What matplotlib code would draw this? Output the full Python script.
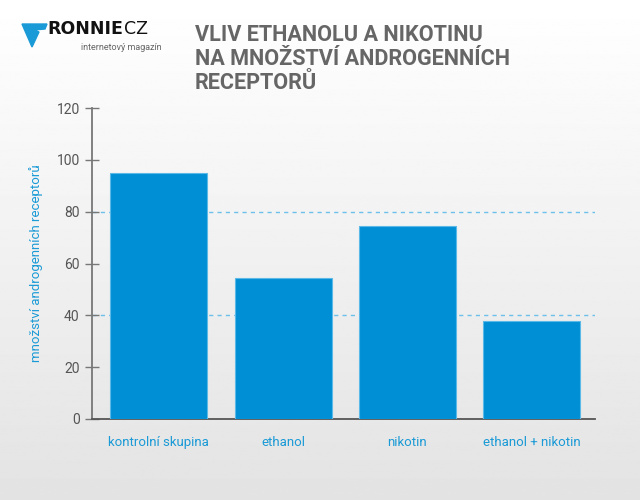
import matplotlib.pyplot as plt
import numpy as np
from matplotlib.patches import Polygon

# data
categories = ['kontrolní skupina', 'ethanol', 'nikotin', 'ethanol + nikotin']
values = [95, 54.5, 74.5, 38]
yticks = [0, 20, 40, 60, 80, 100, 120]
gridlines = [40, 80]

title = 'VLIV ETHANOLU A NIKOTINU\nNA MNOŽSTVÍ ANDROGENNÍCH\nRECEPTORŮ'
ylabel = 'množství androgenních receptorů'

blue = '#008fd5'
textblue = '#1a9ad6'
gray = '#555555'

plt.rcParams['font.family'] = ['Roboto', 'DejaVu Sans']

fig = plt.figure(figsize=(6.4, 5), dpi=100)

# background gradient, white at top to light gray at bottom
bg = fig.add_axes([0, 0, 1, 1], zorder=-10)
grad = np.linspace(1.0, 0.89, 256).reshape(-1, 1)
bg.imshow(grad, aspect='auto', cmap='gray', vmin=0, vmax=1, extent=[0, 1, 0, 1])
bg.axis('off')

ax = fig.add_axes([0.144, 0.162, 0.786, 0.622])
ax.patch.set_alpha(0)
x = np.arange(len(categories))
ax.bar(x, values, width=0.78, color=blue, edgecolor='#5cb8e6', linewidth=0.8, zorder=3)
for g in gridlines:
    ax.axhline(g, color='#6cc0ea', linestyle=(0, (3, 3)), linewidth=1, zorder=1)

ax.set_xlim(-0.535, 3.51)
ax.set_ylim(0, 120)
ax.set_yticks(yticks)
ax.set_xticks(x)
ax.set_xticklabels(categories, color=textblue, fontsize=9.5)
ax.tick_params(axis='x', length=0, pad=12)
ax.tick_params(axis='y', direction='inout', length=10, width=1, color='#777777',
               labelcolor=gray, labelsize=10, pad=4)
for s in ['top', 'right']:
    ax.spines[s].set_visible(False)
ax.spines['left'].set_color('#777777')
ax.spines['bottom'].set_color('#555555')
ax.spines['left'].set_linewidth(1.3)
ax.spines['bottom'].set_linewidth(1.3)
ax.set_ylabel(ylabel, color=textblue, fontsize=9.5, labelpad=10)

# title
fig.text(195 / 640, 1 - 24 / 500, title, fontsize=15.6, fontweight='bold', color='#666666',
         va='top', ha='left', linespacing=1.13)

# logo
lg = fig.add_axes([0, 0, 1, 1], zorder=5)
lg.set_xlim(0, 640)
lg.set_ylim(500, 0)
lg.axis('off')
lg.add_patch(Polygon([[22, 24], [47, 24], [45, 29], [34, 30], [39, 32], [32, 47]],
                     closed=True, color='#1a9ad6'))
lg.text(47, 29.5, 'RONNIE', fontsize=12.5, fontweight='bold', color='#111111',
        va='center', ha='left', family='DejaVu Sans')
lg.text(124, 29.5, 'CZ', fontsize=12.5, color='#111111',
        va='center', ha='left', family='DejaVu Sans')
lg.text(162, 48, 'internetový magazín', fontsize=6.5, color='#666666', va='center', ha='right')

fig.savefig('out.png', dpi=100)
